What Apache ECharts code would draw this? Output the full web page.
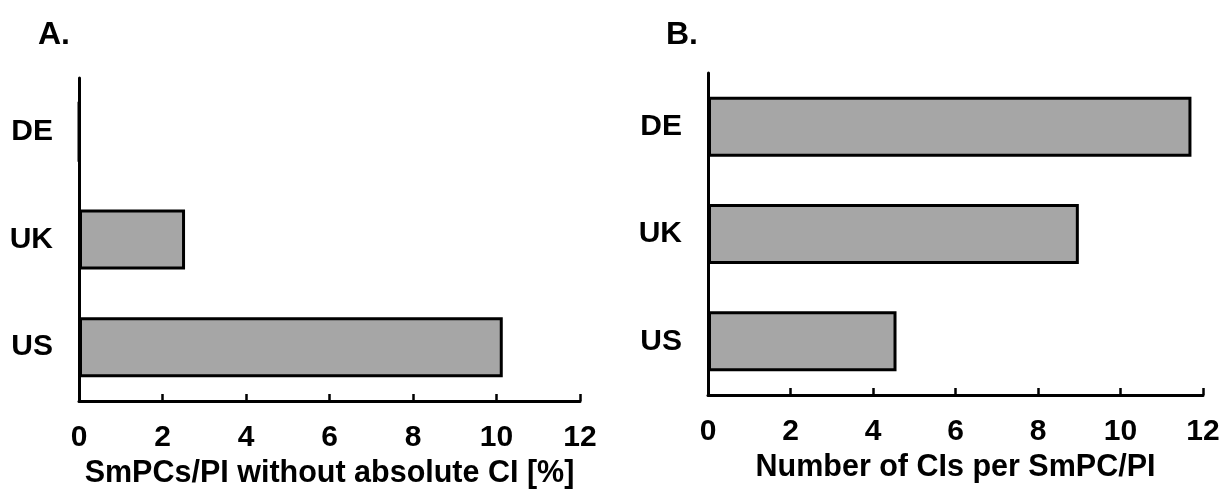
<!DOCTYPE html>
<html>
<head>
<meta charset="utf-8">
<style>
html,body{margin:0;padding:0;background:#fff;}
#chart{width:1226px;height:497px;}
</style>
<script src="https://cdn.jsdelivr.net/npm/echarts@6/dist/echarts.min.js"></script>
</head>
<body>
<div id="chart"></div>
<script>
// Data
const categories = ['DE', 'UK', 'US'];
const valuesA = [0, 2.54, 10.15];     // SmPCs/PI without absolute CI [%]
const valuesB = [11.72, 8.99, 4.57];  // Number of CIs per SmPC/PI
const xTicks = [0, 2, 4, 6, 8, 10, 12];
const panelTitles = ['A.', 'B.'];
const axisTitles = ['SmPCs/PI without absolute CI [%]', 'Number of CIs per SmPC/PI'];

const FONT = '"Liberation Sans", Arial, sans-serif';
const chart = echarts.init(document.getElementById('chart'), null, {renderer: 'canvas'});

function xAxisDef(idx) {
  return {
    gridIndex: idx, type: 'value', min: xTicks[0], max: xTicks[xTicks.length - 1], interval: 2,
    splitLine: {show: false},
    axisLine: {show: true, lineStyle: {color: '#000', width: 3}},
    axisTick: {show: true, inside: true, length: 7, lineStyle: {color: '#000', width: 2.5}},
    axisLabel: {color: '#000', fontFamily: FONT, fontWeight: 'bold', fontSize: 30, margin: 22},
    name: axisTitles[idx], nameLocation: 'middle', nameGap: 54,
    nameTextStyle: {color: '#000', fontFamily: FONT, fontWeight: 'bold', fontSize: 30.5}
  };
}
function yAxisDef(idx) {
  return {
    gridIndex: idx, type: 'category', data: categories, inverse: true,
    axisLine: {show: true, lineStyle: {color: '#000', width: 3}},
    axisTick: {show: false},
    axisLabel: {color: '#000', fontFamily: FONT, fontWeight: 'bold', fontSize: 30, margin: 26}
  };
}
function barSeries(idx, vals) {
  return {
    type: 'bar', xAxisIndex: idx, yAxisIndex: idx, data: vals, barWidth: 60,
    itemStyle: {color: '#a6a6a6', borderColor: '#000', borderWidth: 3},
    silent: true
  };
}

chart.setOption({
  animation: false,
  backgroundColor: '#fff',
  title: [
    {text: panelTitles[0], left: 33, top: 14, textStyle: {fontFamily: FONT, fontWeight: 'bold', fontSize: 32, color: '#000'}},
    {text: panelTitles[1], left: 661, top: 14, textStyle: {fontFamily: FONT, fontWeight: 'bold', fontSize: 32, color: '#000'}}
  ],
  grid: [
    {left: 79, right: 646, top: 78, bottom: 96},
    {left: 708, right: 23, top: 73, bottom: 102}
  ],
  xAxis: [xAxisDef(0), xAxisDef(1)],
  yAxis: [yAxisDef(0), yAxisDef(1)],
  series: [barSeries(0, valuesA), barSeries(1, valuesB)]
});
</script>
</body>
</html>
